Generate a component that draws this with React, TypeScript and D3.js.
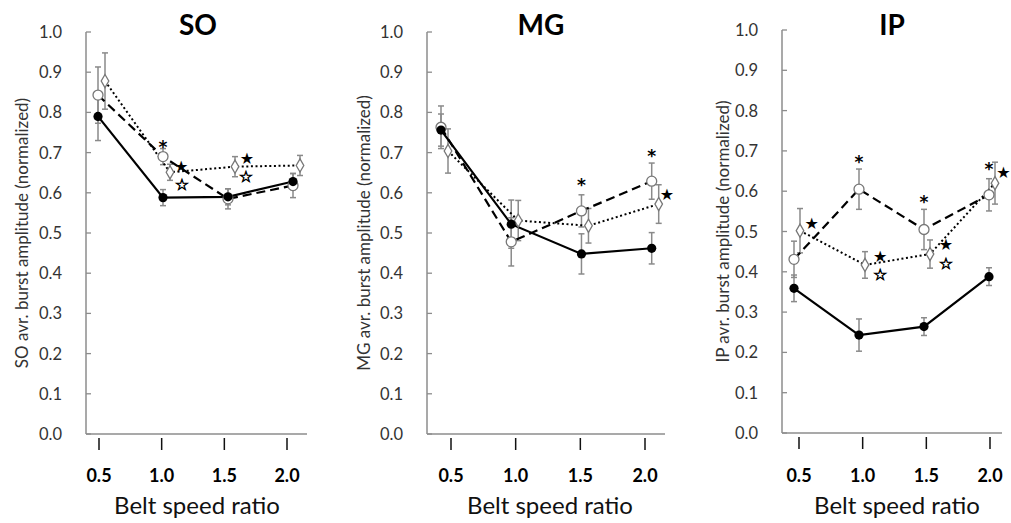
import React from 'react';
import * as d3 from 'd3';

// ---------- data ----------
const categories = [0.5, 1.0, 1.5, 2.0];
const xTickLabels = ['0.5', '1.0', '1.5', '2.0'];
const yTicks = [0, 0.1, 0.2, 0.3, 0.4, 0.5, 0.6, 0.7, 0.8, 0.9, 1.0];

const soSolid = [0.79, 0.588, 0.59, 0.628];
const soSolidErr = [0.06, 0.02, 0.02, 0.02];
const soDashed = [0.843, 0.69, 0.585, 0.618];
const soDashedErr = [0.07, 0.02, 0.025, 0.03];
const soDotted = [0.878, 0.651, 0.665, 0.668];
const soDottedErr = [0.07, 0.02, 0.025, 0.025];
const soMarks = [
  { x: 1.0, y: 0.724, s: '*' },
  { x: 1.14, y: 0.666, s: '★' },
  { x: 1.145, y: 0.62, s: '☆' },
  { x: 1.646, y: 0.686, s: '★' },
  { x: 1.638, y: 0.64, s: '☆' },
];

const mgSolid = [0.756, 0.522, 0.448, 0.462];
const mgSolidErr = [0.04, 0.06, 0.05, 0.039];
const mgDashed = [0.763, 0.478, 0.555, 0.629];
const mgDashedErr = [0.053, 0.06, 0.04, 0.045];
const mgDotted = [0.704, 0.531, 0.518, 0.572];
const mgDottedErr = [0.055, 0.05, 0.043, 0.048];
const mgMarks = [
  { x: 1.5, y: 0.63, s: '*' },
  { x: 2.0, y: 0.702, s: '*' },
  { x: 2.108, y: 0.595, s: '★' },
];

const ipSolid = [0.359, 0.243, 0.264, 0.388];
const ipSolidErr = [0.033, 0.04, 0.022, 0.022];
const ipDashed = [0.431, 0.605, 0.505, 0.591];
const ipDashedErr = [0.045, 0.05, 0.05, 0.04];
const ipDotted = [0.502, 0.417, 0.444, 0.62];
const ipDottedErr = [0.055, 0.033, 0.035, 0.052];
const ipMarks = [
  { x: 0.636, y: 0.52, s: '★' },
  { x: 1.0, y: 0.684, s: '*' },
  { x: 1.162, y: 0.438, s: '★' },
  { x: 1.162, y: 0.392, s: '☆' },
  { x: 1.5, y: 0.584, s: '*' },
  { x: 1.669, y: 0.466, s: '★' },
  { x: 1.669, y: 0.42, s: '☆' },
  { x: 2.0, y: 0.667, s: '*' },
  { x: 2.11, y: 0.646, s: '★' },
];

// ---------- layout / style ----------
const panels = [
  {
    title: 'SO', ylabel: 'SO avr. burst amplitude (normalized)',
    solid: soSolid, solidErr: soSolidErr, dashed: soDashed, dashedErr: soDashedErr,
    dotted: soDotted, dottedErr: soDottedErr, marks: soMarks,
    axisX: 86, axisRight: 307, dataRange: [98, 293], tickRange: [99, 287],
    yRange: [434, 32], titleX: 198, ylabelX: 21, xlabelX: 197, dottedDx: 7,
  },
  {
    title: 'MG', ylabel: 'MG avr. burst amplitude (normalized)',
    solid: mgSolid, solidErr: mgSolidErr, dashed: mgDashed, dashedErr: mgDashedErr,
    dotted: mgDotted, dottedErr: mgDottedErr, marks: mgMarks,
    axisX: 427, axisRight: 665, dataRange: [441, 651.7], tickRange: [451, 645],
    yRange: [434, 32], titleX: 541, ylabelX: 363, xlabelX: 550, dottedDx: 7,
  },
  {
    title: 'IP', ylabel: 'IP avr. burst amplitude (normalized)',
    solid: ipSolid, solidErr: ipSolidErr, dashed: ipDashed, dashedErr: ipDashedErr,
    dotted: ipDotted, dottedErr: ipDottedErr, marks: ipMarks,
    axisX: 782, axisRight: 1002, dataRange: [794, 989], tickRange: [799, 990],
    yRange: [433, 30], titleX: 892, ylabelX: 722, xlabelX: 897, dottedDx: 6,
  },
];

const FONT = 'Lato, "Open Sans", sans-serif';
const AXIS_GRAY = '#8c8c8c';
const ERR_GRAY = '#8a8a8a';
const TEXT_GRAY = '#333';

function Panel({ p }: { p: any }) {
  const y = d3.scaleLinear().domain([0, 1]).range(p.yRange);
  const xd = d3.scaleLinear().domain([0.5, 2.0]).range(p.dataRange);
  const xt = d3.scaleLinear().domain([0.5, 2.0]).range(p.tickRange);
  const y0 = y(0);

  const series = [
    { vals: p.dotted, err: p.dottedErr, dash: '2,2.6', marker: 'diamond', dx: p.dottedDx, width: 2 },
    { vals: p.dashed, err: p.dashedErr, dash: '9,5', marker: 'open', dx: 0, width: 2.2 },
    { vals: p.solid, err: p.solidErr, dash: null, marker: 'filled', dx: 0, width: 2.2 },
  ];

  const line = (dx: number) =>
    d3.line<number>().x((_, i) => xd(categories[i]) + dx).y((v) => y(v));

  const diamond = d3.symbol().type(d3.symbolDiamond).size(50)();

  return (
    <g>
      {/* title */}
      <text x={p.titleX} y={35} textAnchor="middle" fontFamily={FONT} fontWeight="bold" fontSize={28} fill="#000">
        {p.title}
      </text>
      {/* y label */}
      <text
        transform={`translate(${p.ylabelX},${(p.yRange[0] + p.yRange[1]) / 2}) rotate(-90)`}
        textAnchor="middle" dominantBaseline="central" fontFamily={FONT} fontSize={17} fill={TEXT_GRAY}
      >
        {p.ylabel}
      </text>
      {/* y axis */}
      <line x1={p.axisX} x2={p.axisX} y1={y0} y2={y(1)} stroke={AXIS_GRAY} strokeWidth={1.5} />
      {yTicks.map((t) => (
        <g key={t}>
          <line x1={p.axisX} x2={p.axisX + 5} y1={y(t)} y2={y(t)} stroke={AXIS_GRAY} strokeWidth={1.3} />
          <text x={p.axisX - 24} y={y(t)} textAnchor="end" dominantBaseline="central"
            fontFamily={FONT} fontSize={16.5} fill={TEXT_GRAY}>
            {t.toFixed(1)}
          </text>
        </g>
      ))}
      {/* x axis */}
      <line x1={p.axisX} x2={p.axisRight} y1={y0} y2={y0} stroke={AXIS_GRAY} strokeWidth={1.5} />
      {categories.map((c, i) => (
        <g key={c}>
          <line x1={xt(c)} x2={xt(c)} y1={y0 + 4} y2={y0 + 16} stroke="#111" strokeWidth={1.5} />
          <text x={xt(c)} y={482} textAnchor="middle" fontFamily={FONT} fontWeight="bold" fontSize={18} fill="#000">
            {xTickLabels[i]}
          </text>
        </g>
      ))}
      <text x={p.xlabelX} y={514} textAnchor="middle" fontFamily={FONT} fontSize={24} fill="#111">
        Belt speed ratio
      </text>

      {/* error bars */}
      {series.map((s, si) =>
        s.vals.map((v: number, i: number) => {
          const cx = xd(categories[i]) + s.dx;
          return (
            <g key={`e${si}-${i}`} stroke={ERR_GRAY} strokeWidth={1.5}>
              <line x1={cx} x2={cx} y1={y(v - s.err[i])} y2={y(v + s.err[i])} />
              <line x1={cx - 3} x2={cx + 3} y1={y(v - s.err[i])} y2={y(v - s.err[i])} />
              <line x1={cx - 3} x2={cx + 3} y1={y(v + s.err[i])} y2={y(v + s.err[i])} />
            </g>
          );
        })
      )}
      {/* lines */}
      {series.map((s, si) => (
        <path key={`l${si}`} d={line(s.dx)(s.vals) || ''} fill="none" stroke="#000"
          strokeWidth={s.width} strokeDasharray={s.dash || undefined} />
      ))}
      {/* markers */}
      {series.map((s, si) =>
        s.vals.map((v: number, i: number) => {
          const cx = xd(categories[i]) + s.dx;
          const cy = y(v);
          if (s.marker === 'filled')
            return <circle key={`m${si}-${i}`} cx={cx} cy={cy} r={4.6} fill="#000" />;
          if (s.marker === 'open')
            return <circle key={`m${si}-${i}`} cx={cx} cy={cy} r={5} fill="#fff" stroke="#777" strokeWidth={1.3} />;
          return (
            <path key={`m${si}-${i}`} d={diamond || ''} transform={`translate(${cx},${cy})`}
              fill="#fff" stroke="#777" strokeWidth={1.3} />
          );
        })
      )}
      {/* significance marks */}
      {p.marks.map((m: any, i: number) =>
        m.s === '*' ? (
          <text key={`s${i}`} x={xd(m.x)} y={y(m.y)} dy="0.62em" textAnchor="middle"
            fontFamily='"DejaVu Sans", sans-serif' fontWeight="bold" fontSize={17} fill="#000">*</text>
        ) : (
          <text key={`s${i}`} x={xd(m.x)} y={y(m.y)} dy="0.33em" textAnchor="middle"
            fontFamily='"DejaVu Sans", sans-serif' fontSize={16} fill="#000"
            stroke={m.s === '☆' ? '#000' : 'none'} strokeWidth={0.7}>{m.s}</text>
        )
      )}
    </g>
  );
}

export default function App() {
  return (
    <div style={{ position: 'absolute', left: 0, top: 0 }}>
      <svg width={1011} height={523} style={{ display: 'block', background: '#fff' }}>
        {panels.map((p) => (
          <Panel key={p.title} p={p} />
        ))}
      </svg>
    </div>
  );
}
